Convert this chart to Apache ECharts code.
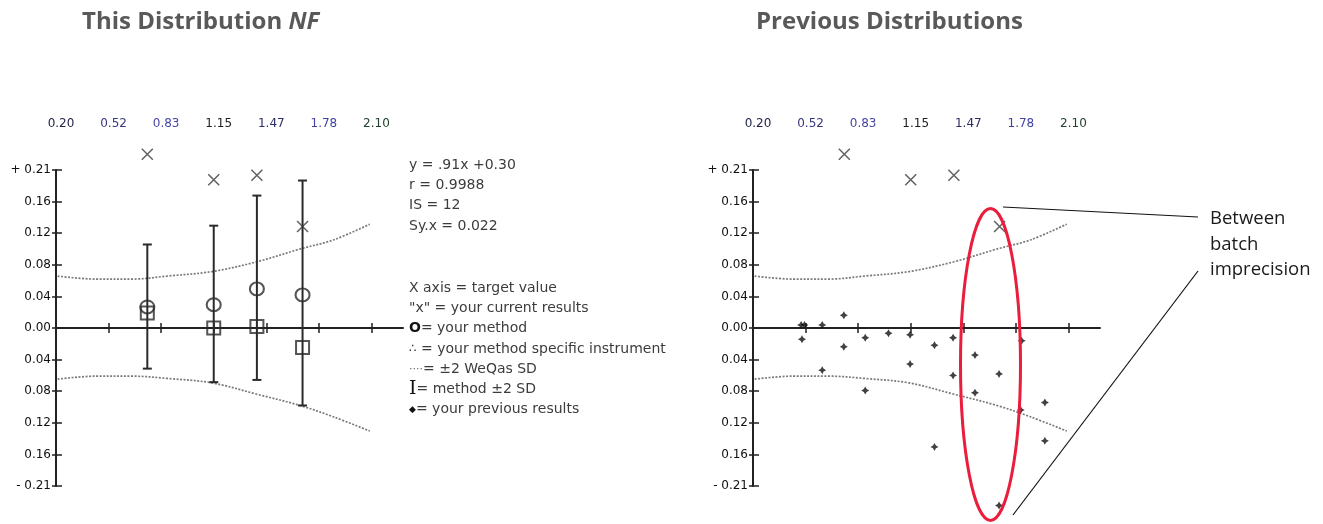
<!DOCTYPE html>
<html><head><meta charset="utf-8">
<script src="https://cdn.jsdelivr.net/npm/echarts@6/dist/echarts.min.js"></script>
<style>html,body{margin:0;padding:0;background:#fff}#c{width:1323px;height:524px}</style>
</head><body><div id="c"></div>
<script>
// ---------- data ----------
const xTicks = [0.20, 0.5167, 0.8333, 1.15, 1.4667, 1.7833, 2.10];
const xTickLabels = ['0.20', '0.52', '0.83', '1.15', '1.47', '1.78', '2.10'];
const xLabelColors = ['#23234a', '#36367e', '#4646a8', '#1e1e1e', '#2c2c66', '#4242a6', '#22402e'];
const yTicks = [-0.21, -0.168, -0.126, -0.084, -0.042, 0, 0.042, 0.084, 0.126, 0.168, 0.21];
const yTickLabels = ['- 0.21', '0.16', '0.12', '0.08', '0.04', '0.00', '0.04', '0.08', '0.12', '0.16', '+ 0.21'];

// current distribution (both panels show the "x" current results)
const resultX = [0.75, 1.15, 1.41, 1.685];
const currentY = [0.231, 0.197, 0.203, 0.135];      // "x" = your current results
const methodY = [0.028, 0.031, 0.052, 0.044];       // O = your method
const instrumentY = [0.020, 0.000, 0.002, -0.026];  // square = method specific instrument
const sdLow = [-0.054, -0.072, -0.069, -0.103];     // method -2 SD
const sdHigh = [0.111, 0.136, 0.176, 0.196];        // method +2 SD

// ±2 WeQas SD envelope
const boundX = [0.21, 0.44, 0.66, 0.87, 1.14, 1.41, 1.67, 1.87, 2.09];
const boundUpper = [0.069, 0.065, 0.065, 0.069, 0.075, 0.088, 0.105, 0.117, 0.138];
const boundLower = [-0.068, -0.064, -0.064, -0.067, -0.073, -0.088, -0.103, -0.118, -0.137];

// previous results (right panel)
const prevX = [0.49, 0.51, 0.495, 0.617, 0.617, 0.747, 0.747, 0.876, 0.876, 1.016, 1.146, 1.146, 1.293, 1.293, 1.405, 1.405, 1.537, 1.537, 1.682, 1.682, 1.812, 1.818, 1.958, 1.958];
const prevY = [0.004, 0.004, -0.015, 0.004, -0.056, 0.017, -0.025, -0.013, -0.083, -0.007, -0.009, -0.048, -0.023, -0.158, -0.013, -0.063, -0.036, -0.086, -0.061, -0.236, -0.109, -0.017, -0.099, -0.150];

const X_MIN = 0.20, X_MAX = 2.29, Y_MIN = -0.21, Y_MAX = 0.21;

// ---------- helpers ----------
function idxOf(arr, v) {
  v = parseFloat(v);
  let best = 0, bd = Infinity;
  arr.forEach((t, i) => { const d = Math.abs(t - v); if (d < bd) { bd = d; best = i; } });
  return best;
}
const AX = '#222';
function labelXAxis(g) {
  return {
    type: 'value', gridIndex: g, position: 'top', min: X_MIN, max: X_MAX,
    axisLine: { show: false, onZero: false }, axisTick: { show: false }, splitLine: { show: false },
    axisLabel: {
      customValues: xTicks,
      formatter: v => xTickLabels[idxOf(xTicks, v)],
      color: v => xLabelColors[idxOf(xTicks, v)],
      fontFamily: 'DejaVu Sans', fontSize: 12, margin: 46, verticalAlign: 'middle', padding: [0, 0, 0, 10]
    }
  };
}
function zeroXAxis(g, pos, yIdx, showLine) {
  return {
    type: 'value', gridIndex: g, position: pos, min: X_MIN, max: X_MAX,
    axisLine: { show: showLine, onZero: true, onZeroAxisIndex: yIdx, lineStyle: { color: AX, width: 2 } },
    axisTick: { show: true, customValues: xTicks, length: 5, lineStyle: { color: AX, width: 1.5 } },
    axisLabel: { show: false }, splitLine: { show: false }
  };
}
function mainYAxis(g) {
  return {
    type: 'value', gridIndex: g, position: 'left', min: Y_MIN, max: Y_MAX,
    axisLine: { show: true, onZero: false, lineStyle: { color: AX, width: 2 } },
    axisTick: { show: true, customValues: yTicks, length: 4, lineStyle: { color: AX, width: 1.5 } },
    axisLabel: {
      customValues: yTicks, formatter: v => yTickLabels[idxOf(yTicks, v)],
      fontFamily: 'DejaVu Sans', fontSize: 12, color: '#111', margin: 5
    },
    splitLine: { show: false }
  };
}
function innerYAxis(g) {
  return {
    type: 'value', gridIndex: g, position: 'left', min: Y_MIN, max: Y_MAX,
    axisLine: { show: false, onZero: false },
    axisTick: { show: true, inside: true, customValues: yTicks, length: 6, lineStyle: { color: AX, width: 1.5 } },
    axisLabel: { show: false }, splitLine: { show: false }
  };
}
function boundSeries(xi, yi, arr) {
  return {
    type: 'line', xAxisIndex: xi, yAxisIndex: yi, data: boundX.map((x, i) => [x, arr[i]]),
    showSymbol: false, smooth: 0.35, silent: true, z: 1,
    lineStyle: { color: '#7a7a7a', width: 1.7, type: [2, 1.5] }
  };
}
function currentSeries(xi, yi) {
  return {
    type: 'scatter', xAxisIndex: xi, yAxisIndex: yi, clip: false, z: 6,
    data: resultX.map((x, i) => [x, currentY[i]]),
    symbol: 'path://M0,0L10,10M10,0L0,10', symbolSize: 11,
    itemStyle: { color: 'rgba(0,0,0,0)', borderColor: '#3a3a3a', borderWidth: 1.5 }
  };
}

const option = {
  animation: false,
  backgroundColor: '#fff',
  grid: [
    { left: 56, top: 170, width: 347, height: 316, containLabel: false, outerBoundsMode: 'none' },
    { left: 753, top: 170, width: 347, height: 316, containLabel: false, outerBoundsMode: 'none' }
  ],
  xAxis: [
    labelXAxis(0), zeroXAxis(0, 'bottom', 0, true), zeroXAxis(0, 'top', 0, false),
    labelXAxis(1), zeroXAxis(1, 'bottom', 2, true), zeroXAxis(1, 'top', 2, false)
  ],
  yAxis: [mainYAxis(0), innerYAxis(0), mainYAxis(1), innerYAxis(1)],
  series: [
    // left panel
    boundSeries(1, 0, boundUpper), boundSeries(1, 0, boundLower),
    {
      type: 'custom', xAxisIndex: 1, yAxisIndex: 0, z: 3,
      data: resultX.map((x, i) => [x, sdLow[i], sdHigh[i]]),
      encode: { x: 0, y: [1, 2] },
      renderItem: (params, api) => {
        const x = api.value(0);
        const pT = api.coord([x, api.value(2)]);
        const pB = api.coord([x, api.value(1)]);
        const c = 4.5, st = { stroke: '#2a2a2a', lineWidth: 2 };
        return {
          type: 'group', children: [
            { type: 'line', shape: { x1: pT[0], y1: pT[1], x2: pB[0], y2: pB[1] }, style: st },
            { type: 'line', shape: { x1: pT[0] - c, y1: pT[1], x2: pT[0] + c, y2: pT[1] }, style: st },
            { type: 'line', shape: { x1: pB[0] - c, y1: pB[1], x2: pB[0] + c, y2: pB[1] }, style: st }
          ]
        };
      }
    },
    {
      type: 'scatter', xAxisIndex: 1, yAxisIndex: 0, z: 4,
      data: resultX.map((x, i) => [x, instrumentY[i]]),
      symbol: 'rect', symbolSize: 13,
      itemStyle: { color: 'rgba(0,0,0,0)', borderColor: '#2a2a2a', borderWidth: 2 }
    },
    {
      type: 'scatter', xAxisIndex: 1, yAxisIndex: 0, z: 5,
      data: resultX.map((x, i) => [x, methodY[i]]),
      symbol: 'circle', symbolSize: [14, 13],
      itemStyle: { color: 'rgba(0,0,0,0)', borderColor: '#2a2a2a', borderWidth: 2 }
    },
    currentSeries(1, 0),
    // right panel
    boundSeries(4, 2, boundUpper), boundSeries(4, 2, boundLower),
    {
      type: 'scatter', xAxisIndex: 4, yAxisIndex: 2, clip: false, z: 5,
      data: prevX.map((x, i) => [x, prevY[i]]),
      symbol: 'path://M5,0L6.8,3.2L10,5L6.8,6.8L5,10L3.2,6.8L0,5L3.2,3.2Z', symbolSize: 8,
      itemStyle: { color: '#111' }
    },
    currentSeries(4, 2)
  ],
  graphic: [
    {
      type: 'text', x: 82, y: 22, z: 20,
      style: {
        text: '{a|This Distribution }{b|NF}', verticalAlign: 'middle',
        rich: {
          a: { font: 'bold 24px "Open Sans"', fill: '#595959' },
          b: { font: 'italic bold 24px "Open Sans"', fill: '#595959' }
        }
      }
    },
    {
      type: 'text', x: 756, y: 22, z: 20,
      style: { text: 'Previous Distributions', font: 'bold 24px "Open Sans"', fill: '#595959', verticalAlign: 'middle' }
    },
    // regression stats
    ...['y = .91x +0.30', 'r = 0.9988', 'IS = 12', 'Sy.x = 0.022'].map((t, i) => ({
      type: 'text', x: 409, y: [165, 185, 205, 226][i], z: 20,
      style: { text: t, font: '14px "DejaVu Sans"', fill: '#3c3c3c', verticalAlign: 'middle' }
    })),
    // key
    ...[
      'X axis = target value',
      '"x" = your current results',
      '{o|O}= your method',
      '{s|∴} = your method specific instrument',
      '{d|····}= ±2 WeQas SD',
      '{i|I}= method ±2 SD',
      '{p|◆}= your previous results'
    ].map((t, i) => ({
      type: 'text', x: 409, y: 288 + i * 20.3, z: 20,
      style: {
        text: t, font: '14px "DejaVu Sans"', fill: '#3c3c3c', verticalAlign: 'middle',
        rich: {
          o: { font: 'bold 14px "DejaVu Sans"', fill: '#111' },
          s: { font: '12px "DejaVu Sans"', fill: '#222' },
          d: { font: '11px "DejaVu Sans"', fill: '#666' },
          i: { font: '19px "DejaVu Serif"', fill: '#111' },
          p: { font: '9px "DejaVu Sans"', fill: '#111' }
        }
      }
    })),
    // annotation
    {
      type: 'ellipse', z: 30, shape: { cx: 990.5, cy: 364.5, rx: 30, ry: 156 },
      style: { fill: 'none', stroke: '#ea1d3c', lineWidth: 3 }
    },
    { type: 'line', z: 30, shape: { x1: 1003, y1: 207, x2: 1198, y2: 217 }, style: { stroke: '#111', lineWidth: 1.2 } },
    { type: 'line', z: 30, shape: { x1: 1013, y1: 515, x2: 1198, y2: 271 }, style: { stroke: '#111', lineWidth: 1.2 } },
    {
      type: 'text', x: 1210, y: 206, z: 30,
      style: { text: 'Between\nbatch\nimprecision', font: '18.5px "Open Sans"', lineHeight: 25.5, fill: '#1a1a1a' }
    }
  ]
};
const chart = echarts.init(document.getElementById('c'), null, { renderer: 'canvas' });
chart.setOption(option);
</script></body></html>
